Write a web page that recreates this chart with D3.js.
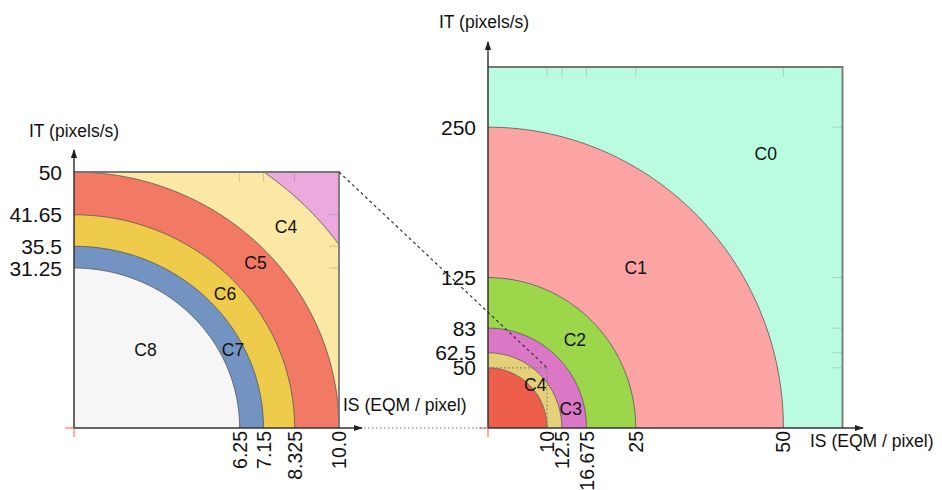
<!DOCTYPE html>
<html><head><meta charset="utf-8">
<script src="https://cdn.jsdelivr.net/npm/d3@7"></script>
<style>body{margin:0;background:#fff}svg{display:block;font-family:"Liberation Sans",Arial,sans-serif}</style>
</head><body><svg id="c" width="942" height="490"></svg>
<script>
// ---- data ----
// Right (full) chart
const rightClasses = ["C0","C1","C2","C3","C4","C5"];
const rightIS = [null, 50, 25, 16.675, 12.5, 10];      // outer IS boundary of each class
const rightIT = [null, 250, 125, 83, 62.5, 50];        // outer IT boundary of each class
const rightColors = ["#b9fce0","#fca3a3","#9bd64b","#da78c6","#e5d07a","#ee5f4b"];
const rightShowLabel = [true,true,true,true,true,false];
const rightXTicks = [10, 12.5, 16.675, 25, 50];
const rightXTickLabels = ["10","12.5","16.675","25","50"];
const rightYTicks = [250, 125, 83, 62.5, 50];
const rightYTickLabels = ["250","125","83","62.5","50"];
const rightLabelPos = [[47,228],[25,133],[14.7,73],[14,16],[8,36],[null,null]];
// Left (zoomed) chart
const leftClasses = ["C3","C4","C5","C6","C7","C8"];
const leftIS = [null, 12.3, 10, 8.325, 7.15, 6.25];
const leftIT = [null, 61.5, 50, 41.65, 35.5, 31.25];
const leftColors = ["#eba9de","#fbe8a4","#f27963","#efcb4c","#7393c3","#f6f6f6"];
const leftShowLabel = [false,true,true,true,true,true];
const leftXTicks = [6.25, 7.15, 8.325, 10];
const leftXTickLabels = ["6.25","7.15","8.325","10.0"];
const leftYTicks = [50, 41.65, 35.5, 31.25];
const leftYTickLabels = ["50","41.65","35.5","31.25"];
const leftLabelPos = [[null,null],[8.0,39.3],[6.85,32.2],[5.7,26.2],[6.0,15.3],[2.7,15.3]];

const svg = d3.select("#c");
const defs = svg.append("defs");
defs.append("marker").attr("id","arr").attr("viewBox","0 0 10 10").attr("refX",9).attr("refY",5)
  .attr("markerWidth",6).attr("markerHeight",6).attr("orient","auto-start-reverse")
  .append("path").attr("d","M0,1.5L10,5L0,8.5z").attr("fill","#222");

function chart(cfg){
  const x = d3.scaleLinear().domain(cfg.xDom).range(cfg.xRange);
  const y = d3.scaleLinear().domain(cfg.yDom).range(cfg.yRange);
  const g = svg.append("g");
  const cid = "clip"+cfg.id;
  defs.append("clipPath").attr("id",cid).append("rect")
    .attr("x",x(cfg.xDom[0])).attr("y",y(cfg.yDom[1]))
    .attr("width",x(cfg.xDom[1])-x(cfg.xDom[0])).attr("height",y(cfg.yDom[0])-y(cfg.yDom[1]));
  const body = g.append("g").attr("clip-path",`url(#${cid})`);
  const angles = d3.range(0, 90.01, 1).map(d=>d*Math.PI/180);
  const line = d3.line();
  cfg.classes.forEach((c,i)=>{
    if(cfg.IS[i]==null){
      body.append("rect").attr("x",x(cfg.xDom[0])).attr("y",y(cfg.yDom[1]))
        .attr("width",x(cfg.xDom[1])-x(cfg.xDom[0])).attr("height",y(cfg.yDom[0])-y(cfg.yDom[1]))
        .attr("fill",cfg.colors[i]);
    } else {
      const pts = angles.map(t=>[x(cfg.IS[i]*Math.cos(t)), y(cfg.IT[i]*Math.sin(t))]);
      pts.push([x(0),y(0)]);
      body.append("path").attr("d",line(pts)+"Z").attr("fill",cfg.colors[i]);
      body.append("path").attr("d",line(pts.slice(0,-1))).attr("fill","none")
        .attr("stroke","#555").attr("stroke-width",0.8);
    }
  });
  // inner ticks on top and right edges
  const x0=x(cfg.xDom[0]), x1=x(cfg.xDom[1]), y0=y(cfg.yDom[0]), y1=y(cfg.yDom[1]);
  cfg.xTicks.forEach(v=>g.append("line").attr("x1",x(v)).attr("x2",x(v)).attr("y1",y1).attr("y2",y1+10)
    .attr("stroke","#000").attr("stroke-opacity",0.15).attr("stroke-width",1));
  cfg.yTicks.forEach(v=>g.append("line").attr("x1",x1).attr("x2",x1-10).attr("y1",y(v)).attr("y2",y(v))
    .attr("stroke","#000").attr("stroke-opacity",0.15).attr("stroke-width",1));
  // frame (top and right)
  g.append("path").attr("d",`M${x0},${y1}H${x1}V${y0}`).attr("fill","none")
    .attr("stroke","#777").attr("stroke-width",1.8);
  // axes with arrows
  g.append("line").attr("x1",x0).attr("y1",y0).attr("x2",cfg.xArrow).attr("y2",y0)
    .attr("stroke","#333").attr("stroke-width",1.5).attr("marker-end","url(#arr)");
  g.append("line").attr("x1",x0).attr("y1",y0).attr("x2",x0).attr("y2",cfg.yArrow)
    .attr("stroke","#333").attr("stroke-width",1.5).attr("marker-end","url(#arr)");
  // red origin ticks
  g.append("line").attr("x1",x0-9).attr("x2",x0).attr("y1",y0).attr("y2",y0).attr("stroke","#f44").attr("stroke-opacity",0.6).attr("stroke-width",1.5);
  g.append("line").attr("x1",x0).attr("x2",x0).attr("y1",y0).attr("y2",y0+9).attr("stroke","#f44").attr("stroke-opacity",0.6).attr("stroke-width",1.5);
  // tick labels
  cfg.yTicks.forEach((v,i)=>g.append("text").attr("x",x0-12).attr("y",y(v)).attr("dy","0.36em")
    .attr("text-anchor","end").attr("font-size",21).attr("fill","#111").text(cfg.yTickLabels[i]));
  cfg.xTicks.forEach((v,i)=>g.append("text").attr("transform",`translate(${x(v)},${y0+3}) rotate(-90)`)
    .attr("dy","0.36em").attr("text-anchor","end").attr("font-size",19.5).attr("fill","#111").text(cfg.xTickLabels[i]));
  // class labels
  cfg.classes.forEach((c,i)=>{
    if(!cfg.show[i]) return;
    const p = cfg.labelPos[i];
    g.append("text").attr("x",x(p[0])).attr("y",y(p[1])).attr("dy","0.36em").attr("text-anchor","middle")
      .attr("font-size",17.5).attr("fill","#111").text(c);
  });
  // axis titles
  g.append("text").attr("x",cfg.ytPos[0]).attr("y",cfg.ytPos[1]).attr("font-size",17.5).attr("fill","#111").text("IT (pixels/s)");
  g.append("text").attr("x",cfg.xtPos[0]).attr("y",cfg.xtPos[1]).attr("font-size",17.5).attr("fill","#111").text("IS (EQM / pixel)");
  return {x,y};
}

const L = chart({id:"L", xDom:[0,10], yDom:[0,50], xRange:[74,339], yRange:[428,172],
  classes:leftClasses, IS:leftIS, IT:leftIT, colors:leftColors, show:leftShowLabel,
  xTicks:leftXTicks, xTickLabels:leftXTickLabels, yTicks:leftYTicks, yTickLabels:leftYTickLabels,
  labelPos:leftLabelPos, xArrow:362, yArrow:150, ytPos:[29,137], xtPos:[343,411]});
const R = chart({id:"R", xDom:[0,60], yDom:[0,300], xRange:[488,842.5], yRange:[428,67],
  classes:rightClasses, IS:rightIS, IT:rightIT, colors:rightColors, show:rightShowLabel,
  xTicks:rightXTicks, xTickLabels:rightXTickLabels, yTicks:rightYTicks, yTickLabels:rightYTickLabels,
  labelPos:rightLabelPos, xArrow:863, yArrow:42, ytPos:[439,28], xtPos:[810,447]});

// zoom connectors
svg.append("line").attr("x1",364).attr("x2",R.x(0)).attr("y1",L.y(0)).attr("y2",R.y(0))
  .attr("stroke","#777").attr("stroke-width",1.2).attr("stroke-dasharray","1.5,2.5");
svg.append("line").attr("x1",L.x(10)).attr("y1",L.y(50)).attr("x2",R.x(10)).attr("y2",R.y(50))
  .attr("stroke","#333").attr("stroke-width",1.2).attr("stroke-dasharray","3,3");
svg.append("path").attr("d",`M${R.x(0)},${R.y(50)}H${R.x(10)}V${R.y(0)}`).attr("fill","none")
  .attr("stroke","#777").attr("stroke-width",1.2).attr("stroke-dasharray","1.5,2.5");
</script></body></html>
